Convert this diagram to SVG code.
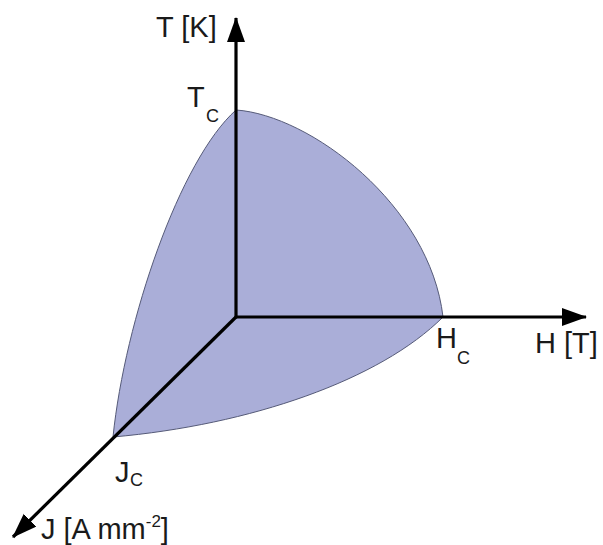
<svg xmlns="http://www.w3.org/2000/svg" width="603" height="545" viewBox="0 0 603 545">
<style>
.lbl{font-family:"Liberation Sans",Arial,sans-serif;font-size:29px;fill:#1a1a1a}
.sub{font-family:"Liberation Sans",Arial,sans-serif;font-size:18px;fill:#1a1a1a}
.axis{stroke:#000;stroke-width:3.2;fill:none}
</style>
<defs>
<marker id="ah" markerUnits="userSpaceOnUse" markerWidth="28" markerHeight="20" refX="24" refY="9" orient="auto">
<path d="M0,0 L25,9 L0,18 Z" fill="#000"/>
</marker>
</defs>
<g id="surface">
<path d="M236,110 C310,115 430,205 443,317 C380,380 250,425 113,437 C125,320 180,160 236,110 Z" fill="#aaaed8" stroke="#555a78" stroke-width="1"/>
</g>
<g id="connectors">
<line class="axis" x1="236" y1="318" x2="236" y2="18" marker-end="url(#ah)"/>
<line class="axis" x1="235" y1="317" x2="586" y2="317" marker-end="url(#ah)"/>
<line class="axis" x1="237" y1="316" x2="13" y2="537" marker-end="url(#ah)"/>
</g>
<g id="labels">
<text class="lbl" x="156" y="37">T [K]</text>
<text class="lbl" x="187" y="107">T</text><text class="sub" x="206" y="122">C</text>
<text class="lbl" x="436" y="348">H</text><text class="sub" x="457" y="364">C</text>
<text class="lbl" x="535" y="353">H [T]</text>
<text class="lbl" x="115" y="482">J</text><text class="sub" x="130" y="486">C</text>
<text class="lbl" x="41" y="539">J [A mm<tspan font-size="17" dy="-12">-2</tspan><tspan dy="12">]</tspan></text>
</g>
</svg>
